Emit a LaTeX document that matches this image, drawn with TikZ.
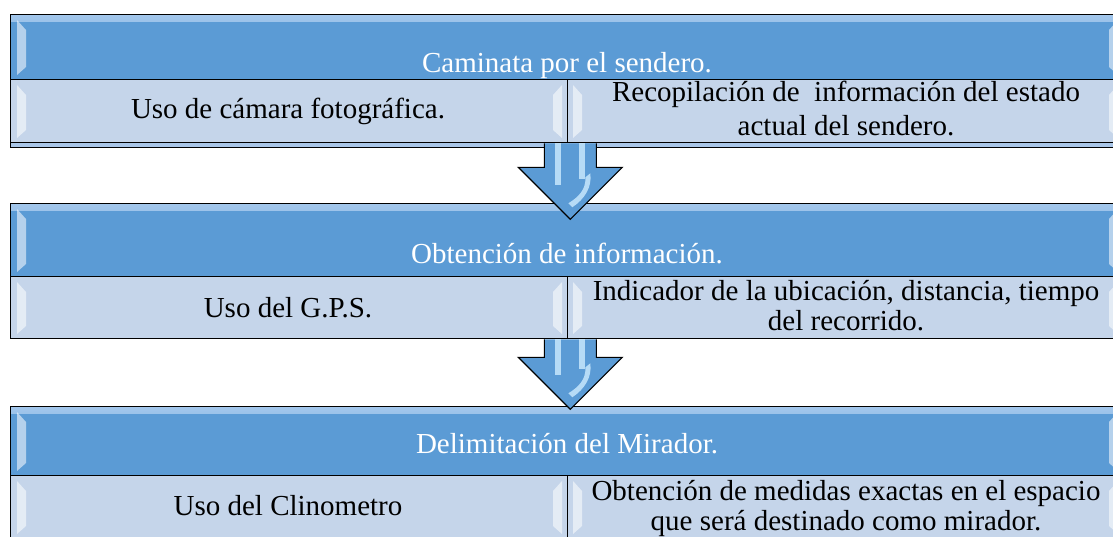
\documentclass[tikz,border=0pt]{standalone}
\usepackage{fontspec}
\setmainfont{Liberation Serif}
\definecolor{hdrblue}{HTML}{5B9BD5}
\definecolor{hdrtop}{HTML}{A3C7EC}
\definecolor{subblue}{HTML}{C5D5EA}
\definecolor{stripblue}{HTML}{A9C6E8}
\definecolor{glow}{HTML}{CDEBFF}
\newcommand{\bevL}[3]{\fill[bevel] (#1,#2+6) -- (#1+9,#2+16) -- (#1+9,#3-12) -- (#1,#3-4) -- cycle;}
\newcommand{\bevR}[3]{\fill[bevel] (#1,#2+6) -- (#1-9,#2+16) -- (#1-9,#3-12) -- (#1,#3-4) -- cycle;}
\begin{document}
\begin{tikzpicture}[x=1pt,y=-1pt,
  cellbox/.style={draw=black, line width=1.3pt, inner sep=0pt, anchor=north west},
  hdr/.style={cellbox, fill=hdrblue,
    path picture={\fill[top color=hdrtop, bottom color=hdrblue]
      (path picture bounding box.north west) rectangle ([yshift=-7pt]path picture bounding box.north east);}},
  sub/.style={cellbox, fill=subblue},
  hdrtext/.style={text=white, font=\fontsize{29}{34}\selectfont, anchor=base, inner sep=0pt},
  subtext/.style={text=black, font=\fontsize{29}{34}\selectfont, anchor=base, inner sep=0pt},
  bevel/.style={fill=white, fill opacity=0.55, draw=none},
  arrowbody/.style={fill=hdrblue, draw=none},
  arrowedge/.style={draw=black, line width=1.1pt, line join=miter},
  shine/.style={fill=glow, fill opacity=0.8, draw=none}]

\useasboundingbox (0,0) rectangle (1113,536);
\clip (0,0) rectangle (1113,536);

% ---------- Block 1 ----------
\node[hdr, minimum width=1115pt, minimum height=65pt] (h1) at (10,14) {};
\node[cellbox, fill=stripblue, minimum width=1115pt, minimum height=5pt] (s1) at (10,142) {};
\node[sub, minimum width=557pt, minimum height=63pt] (l1) at (10,79) {};
\node[sub, minimum width=558pt, minimum height=63pt] (r1) at (567,79) {};

% ---------- Block 2 ----------
\node[hdr, minimum width=1115pt, minimum height=73pt] (h2) at (10,203) {};
\node[sub, minimum width=557pt, minimum height=62pt] (l2) at (10,276) {};
\node[sub, minimum width=558pt, minimum height=62pt] (r2) at (567,276) {};

% ---------- Block 3 ----------
\node[hdr, minimum width=1115pt, minimum height=69pt] (h3) at (10,406) {};
\node[sub, minimum width=557pt, minimum height=80pt] (l3) at (10,475) {};
\node[sub, minimum width=558pt, minimum height=80pt] (r3) at (567,475) {};

% ---------- bevel highlights ----------
\foreach \t/\b in {14/79, 203/276, 406/475} {
  \bevL{17}{\t}{\b}
  \bevR{1118}{\t}{\b}
}
\foreach \t/\b in {79/142, 276/338, 475/538} {
  \bevL{17}{\t}{\b}
  \bevR{562}{\t}{\b}
  \bevL{573}{\t}{\b}
  \bevR{1118}{\t}{\b}
}

% ---------- texts ----------
\node[hdrtext] (t1) at (567,72) {Caminata por el sendero.};
\node[subtext] (tl1) at (288,118) {Uso de cámara fotográfica.};
\node[subtext] (tr1a) at (846,101) {Recopilación de~ información del estado};
\node[subtext] (tr1b) at (846,135) {actual del sendero.};

\node[hdrtext] (t2) at (567,263) {Obtención de información.};
\node[subtext] (tl2) at (288,317) {Uso del G.P.S.};
\node[subtext] (tr2a) at (846,300) {Indicador de la ubicación, distancia, tiempo};
\node[subtext] (tr2b) at (846,330) {del recorrido.};

\node[hdrtext] (t3) at (567,453) {Delimitación del Mirador.};
\node[subtext] (tl3) at (288,515) {Uso del Clinometro};
\node[subtext] (tr3a) at (846,500) {Obtención de medidas exactas en el espacio};
\node[subtext] (tr3b) at (846,530) {que será destinado como mirador.};

% ---------- block arrows ----------
\coordinate (a1) at (l1.south east);
\coordinate (a2) at (l2.south east);
\foreach \c/\s in {a1/24, a2/18} {
  \begin{scope}[shift={(\c)}, xshift=2pt]
    \fill[arrowbody] (-26,0) -- (-26,\s) -- (-52,\s) -- (0,\s+52) -- (52,\s) -- (26,\s) -- (26,0) -- cycle;
    \fill[shine] (-15,0) rectangle (-9,\s+18);
    \fill[shine] (9,0) rectangle (15,\s+12);
    \fill[shine] (15,\s+10) .. controls (16,\s+22) and (8,\s+30) .. (-2,\s+36)
                 -- (2,\s+40) .. controls (14,\s+32) and (22,\s+20) .. (20,\s+6) -- cycle;
    \draw[arrowedge] (-26,0) -- (-26,\s) -- (-52,\s) -- (0,\s+52) -- (52,\s) -- (26,\s) -- (26,0);
  \end{scope}
}
\end{tikzpicture}
\end{document}
